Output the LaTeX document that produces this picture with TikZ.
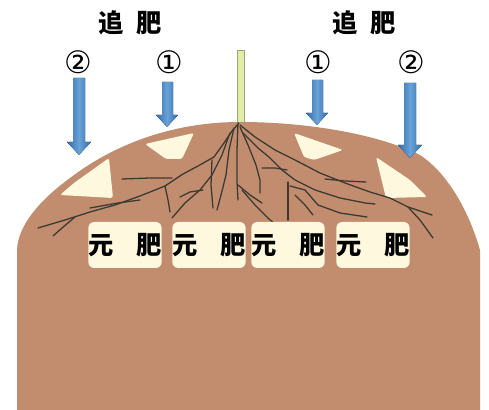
\documentclass[tikz,border=0pt]{standalone}
\usepackage{fontspec}
\newfontfamily\cjk{Noto Sans CJK SC}
\newfontfamily\symb{DejaVu Sans}
\definecolor{soil}{RGB}{194,140,110}
\definecolor{cream}{RGB}{253,248,222}
\definecolor{stemgreen}{RGB}{225,236,168}
\definecolor{rootgrey}{RGB}{58,58,50}
\definecolor{arrowdark}{RGB}{50,108,170}
\definecolor{arrowlight}{RGB}{105,162,215}
\begin{document}
\begin{tikzpicture}[
        x=0.25mm, y=-0.25mm,
        label/.style={font=\cjk\bfseries\fontsize{18}{20}\selectfont, inner sep=0pt},
        number/.style={font=\symb\fontsize{22}{24}\selectfont, inner sep=0pt},
        fertbox/.style={label, fill=cream, rounded corners=1.5mm, minimum width=18mm, minimum height=11.5mm},
        wedge/.style={fill=cream, rounded corners=0.6mm},
        root/.style={draw=rootgrey, line width=0.32mm, line join=round, line cap=round},
        bluearrow/.style={left color=arrowdark, right color=arrowdark, middle color=arrowlight}
    ]
    \useasboundingbox (0,0) rectangle (489,410);
    % stem and ridge
    \draw[fill=stemgreen, draw=stemgreen!70!black, line width=0.1mm] (237,50) rectangle (244,124);
    \fill[soil] (17,410) -- (17,250) .. controls (18,225) and (40,200) .. (70,178)
        .. controls (120,140) and (180,122) .. (240,122)
        .. controls (310,122) and (380,135) .. (420,155)
        .. controls (450,175) and (470,215) .. (480,250) -- (480,410) -- cycle;
    \fill[wedge] (60,195) -- (74,183) -- (109,158) -- (113,198) -- cycle;
    \fill[wedge] (145,144) -- (194,133) -- (182,159) -- (166,159) -- cycle;
    \fill[wedge] (294,133) -- (343,150) -- (314,160) -- (304,157) -- cycle;
    \fill[wedge] (376,157) -- (410,180) -- (427,197) -- (386,198) -- cycle;
    % roots
    \draw[root] (239,123) -- (232,131) -- (224,143) -- (214,157) -- (198,166) -- (183,174) -- (165,186)
        -- (140,196) -- (115,205) -- (90,212) -- (65,220) -- (38,228);
    \draw[root] (75,217) -- (62,228) -- (53,236);
    \draw[root] (172,178) -- (150,178) -- (122,179);
    \draw[root] (140,200) -- (118,203) -- (90,208);
    \draw[root] (230,133) -- (222,155) -- (212,175) -- (200,190) -- (185,203) -- (172,218);
    \draw[root] (212,160) -- (211,185) -- (213,208);
    \draw[root] (203,190) -- (190,192) -- (180,197);
    \draw[root] (165,186) -- (168,200) -- (170,212);
    \draw[root] (234,128) -- (229,150) -- (226,175) -- (221,195) -- (217,210);
    \draw[root] (238,123) -- (237,150) -- (237,182) -- (238,200);
    \draw[root] (238,185) -- (250,195) -- (262,203);
    \draw[root] (242,190) -- (255,205) -- (268,218) -- (278,227);
    \draw[root] (240,127) -- (248,145) -- (256,165) -- (260,180) -- (260,193);
    \draw[root] (240,125) -- (255,137) -- (275,150) -- (295,160) -- (320,173) -- (345,183) -- (370,192)
        -- (390,198) -- (408,207) -- (420,220) -- (433,238);
    \draw[root] (408,207) -- (420,211) -- (432,215);
    \draw[root] (325,179) -- (345,181) -- (366,182);
    \draw[root] (243,133) -- (258,148) -- (270,158) -- (282,170) -- (295,180) -- (315,190) -- (340,198)
        -- (365,203) -- (375,204);
    \draw[root] (262,168) -- (275,168) -- (287,170);
    \draw[root] (288,182) -- (288,220);
    \draw[root] (290,186) -- (305,190) -- (318,205) -- (340,213) -- (367,217);
    \draw[root] (295,195) -- (305,205) -- (313,215);
    % base fertiliser
    \node[fertbox] (b1) at (125,245) {元\hspace{0.9em}肥};
    \node[fertbox] (b2) at (209,245) {元\hspace{0.9em}肥};
    \node[fertbox] (b3) at (288,245) {元\hspace{0.9em}肥};
    \node[fertbox] (b4) at (373,245) {元\hspace{0.9em}肥};
    % top dressing
    \node[label] (tl) at (130,23) {追\hspace{0.5em}肥};
    \node[label] (tr) at (364,23) {追\hspace{0.5em}肥};
    \node[number] (n2l) at (78,62) {②};
    \node[number] (n1l) at (169,62) {①};
    \node[number] (n1r) at (318,62) {①};
    \node[number] (n2r) at (411,62) {②};
    \fill[bluearrow] (73,78) -- (85,78) -- (85,142) -- (91,142) -- (79,155) -- (67,142) -- (73,142) -- cycle;
    \fill[bluearrow] (162,82) -- (173,82) -- (173,115) -- (178,115) -- (167,127) -- (156,115) -- (162,115) -- cycle;
    \fill[bluearrow] (312,80) -- (323,80) -- (323,113) -- (328,113) -- (317,125) -- (306,113) -- (312,113) -- cycle;
    \fill[bluearrow] (404,83) -- (416,83) -- (416,145) -- (422,145) -- (410,158) -- (398,145) -- (404,145) -- cycle;
\end{tikzpicture}
\end{document}
